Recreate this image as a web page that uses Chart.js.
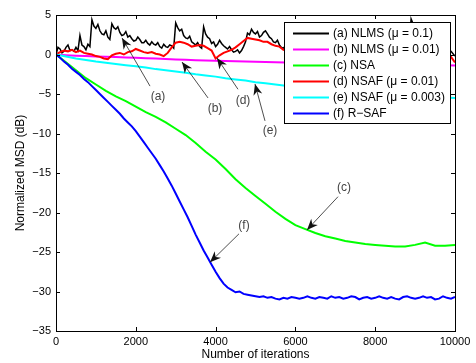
<!DOCTYPE html>
<html>
<head>
<meta charset="utf-8">
<script src="https://cdn.jsdelivr.net/npm/chart.js@4.4.0/dist/chart.umd.min.js"></script>
<style>
  html, body { margin: 0; padding: 0; background: #fff; }
</style>
</head>
<body>
<canvas id="grafico" width="476" height="363"></canvas>
<script>
// Rejillas de iteraciones (cada 50, cada 100 y cada 250)
const iter50 = Array.from({length: 201}, (v, i) => i * 50);
const iter100 = Array.from({length: 101}, (v, i) => i * 100);
const iter250 = Array.from({length: 41}, (v, i) => i * 250);

// (a) NLMS mu = 0.1  (cada 50)
const nlms01 = [0,0.9,0.7,0.2,0.4,0.9,1.2,0.5,0.6,0.4,0.9,0.5,2.4,1.2,1.0,0.6,1.3,1.0,4.4,3.6,
  3.3,3.8,3.0,2.6,2.5,3.0,2.2,1.9,3.9,3.4,3.2,3.5,2.8,2.4,2.5,2.9,2.2,2.4,2.0,1.7,
  1.8,2.2,1.9,1.5,1.5,1.8,1.4,1.2,1.6,1.3,1.2,1.5,1.0,0.8,1.3,1.0,0.9,1.2,1.1,0.8,
  4.0,3.4,3.0,3.2,2.4,2.1,2.0,2.3,1.6,1.4,1.2,1.5,1.0,0.8,3.5,2.6,2.2,2.0,1.4,1.6,
  1.0,1.3,1.8,1.4,1.1,0.9,0.7,1.0,0.6,0.3,0.4,0.6,0.2,0.5,1.0,1.6,2.7,2.5,3.2,2.8,
  2.6,2.9,2.2,2.4,2.8,3.0,2.6,2.2,2.0,1.6,1.5,1.8,1.2,0.9,0.8,1.1,1.4,1.1,1.0,1.3,
  1.6,2.2,2.9,2.4,2.1,1.8,1.6,1.9,1.3,1.1,1.0,1.3,2.6,2.2,1.9,1.6,1.4,1.7,1.1,0.9,
  0.8,1.1,1.5,1.2,1.0,0.7,3.0,2.5,2.2,2.4,1.7,1.5,1.3,1.6,1.0,0.8,0.7,1.0,1.9,1.6,
  1.4,1.2,1.0,1.4,2.5,2.1,1.8,1.5,1.3,1.0,1.0,1.3,0.8,1.1,1.2,0.9,1.0,1.1,4.5,3.9,
  3.4,3.0,2.7,2.9,2.2,2.0,1.8,2.1,1.4,1.2,1.1,1.5,2.0,1.7,1.4,1.0,0.9,0.6,0.4,0.1,-0.2];

// (b) NLMS mu = 0.01  (cada 250)
const nlms001 = [0,-0.08,-0.15,-0.2,-0.25,-0.3,-0.33,-0.38,-0.42,-0.47,
  -0.52,-0.57,-0.62,-0.67,-0.72,-0.76,-0.8,-0.83,-0.86,-0.89,
  -0.92,-0.95,-0.98,-1.0,-1.03,-1.06,-1.08,-1.1,-1.13,-1.15,
  -1.17,-1.2,-1.22,-1.24,-1.26,-1.28,-1.3,-1.32,-1.34,-1.36,-1.38];

// (c) NSA  (cada 250)
const nsa = [0,-1.0,-2.0,-3.0,-3.8,-4.6,-5.3,-5.9,-6.6,-7.3,
  -7.9,-8.6,-9.4,-10.2,-11.2,-12.3,-13.3,-14.5,-15.8,-16.9,
  -17.9,-18.9,-19.9,-20.8,-21.6,-22.1,-22.6,-23.0,-23.3,-23.6,
  -23.8,-24.0,-24.1,-24.2,-24.3,-24.3,-24.1,-23.8,-24.2,-24.2,-24.1];

// (d) NSAF mu = 0.01  (cada 100)
const nsaf001 = [0,0.3,0.5,0.4,0.6,0.3,0.5,0.2,0.1,0.0,
  -0.2,-0.3,-0.5,-0.6,-0.1,0.1,0.2,0.0,0.3,0.4,
  0.7,0.5,0.3,0.2,0.3,0.1,0.0,-0.2,0.2,0.9,
  1.5,1.6,1.5,1.3,1.0,1.1,1.2,1.1,0.8,0.5,
  -0.5,-0.1,0.2,0.4,0.6,0.9,1.3,1.7,2.1,2.0,
  1.9,1.8,1.6,1.6,1.3,1.1,1.0,0.6,0.5,0.8,
  1.0,1.3,1.1,0.9,1.2,1.4,1.1,0.8,0.6,0.9,
  1.2,1.0,0.7,0.9,1.1,0.8,0.5,0.7,1.0,0.8,
  0.6,0.9,1.2,1.0,0.7,0.5,0.8,1.0,0.9,1.1,
  0.8,0.6,0.8,1.0,0.7,0.5,0.6,0.4,0.2,-0.3,-1.0];

// (e) NSAF mu = 0.003  (cada 250)
const nsaf0003 = [0,-0.25,-0.5,-0.7,-0.9,-1.05,-1.2,-1.35,-1.5,-1.65,
  -1.85,-2.0,-2.15,-2.3,-2.5,-2.65,-2.8,-3.0,-3.15,-3.3,
  -3.5,-3.65,-3.8,-3.95,-4.1,-4.2,-4.35,-4.45,-4.55,-4.65,
  -4.75,-4.85,-4.95,-5.05,-5.1,-5.2,-5.25,-5.3,-5.4,-5.45,-5.5];

// (f) R-SAF  (cada 100)
const rsaf = [0,-0.4,-0.9,-1.3,-1.8,-2.2,-2.6,-3.1,-3.5,-4.0,
  -4.5,-5.0,-5.5,-6.0,-6.5,-7.0,-7.5,-8.1,-8.6,-9.1,
  -9.7,-10.4,-11.1,-11.8,-12.5,-13.2,-14.0,-14.8,-15.7,-16.6,
  -17.6,-18.6,-19.6,-20.6,-21.7,-22.8,-23.8,-24.8,-25.7,-26.6,
  -27.5,-28.3,-29.0,-29.5,-29.8,-30.1,-30.0,-30.3,-30.4,-30.5,
  -30.6,-30.7,-30.6,-30.8,-30.7,-30.9,-31.0,-30.8,-30.9,-30.7,
  -30.8,-30.9,-30.8,-30.6,-30.8,-30.9,-30.7,-30.8,-30.9,-30.6,
  -30.8,-30.7,-30.9,-30.8,-30.6,-30.7,-31.0,-30.8,-30.7,-30.9,
  -30.8,-30.6,-30.8,-30.9,-30.7,-30.9,-31.0,-30.7,-30.6,-30.8,
  -30.9,-30.8,-30.6,-30.8,-30.7,-31.0,-30.9,-30.6,-30.8,-30.9,-30.7];

// Ticks
const ticksX = [0, 2000, 4000, 6000, 8000, 10000];
const ticksY = [5, 0, -5, -10, -15, -20, -25, -30, -35];

// Etiquetas con flecha: texto, inicio de la linea, punta (en unidades de datos)
const notas = [
  {texto: "(a)", pos: [2556, -5.3], desde: [2356, -4.0], hasta: [1654, 2.1]},
  {texto: "(b)", pos: [3985, -6.8], desde: [3810, -5.5], hasta: [3158, -0.95]},
  {texto: "(d)", pos: [4687, -5.8], desde: [4561, -4.4], hasta: [4035, -0.44]},
  {texto: "(e)", pos: [5363, -9.7], desde: [5238, -8.4], hasta: [4987, -3.73]},
  {texto: "(c)", pos: [7218, -16.9], desde: [7068, -18.0], hasta: [6291, -22.2]},
  {texto: "(f)", pos: [4712, -21.7], desde: [4586, -22.7], hasta: [3860, -26.3]}
];

const puntos = (xs, ys) => ys.map((v, i) => ({x: xs[i], y: v}));

// Series en orden de la leyenda (a..f)
const series = [
  {label: "(a) NLMS (\u03bc = 0.1)", data: puntos(iter50, nlms01), borderColor: "#000000", borderWidth: 1.5},
  {label: "(b) NLMS (\u03bc = 0.01)", data: puntos(iter250, nlms001), borderColor: "#ff00ff", borderWidth: 2},
  {label: "(c) NSA", data: puntos(iter250, nsa), borderColor: "#00ff00", borderWidth: 2},
  {label: "(d) NSAF (\u03bc = 0.01)", data: puntos(iter100, nsaf001), borderColor: "#ff0000", borderWidth: 2},
  {label: "(e) NSAF (\u03bc = 0.003)", data: puntos(iter250, nsaf0003), borderColor: "#00ffff", borderWidth: 2},
  {label: "(f) R\u2212SAF", data: puntos(iter100, rsaf), borderColor: "#0000ff", borderWidth: 2}
];

const fuente = "'Liberation Sans', Arial, Helvetica, sans-serif";

// Marco, ticks hacia dentro, flechas y leyenda al estilo MATLAB
const marco = {
  id: "marco",
  afterDraw(chart) {
    const {ctx, chartArea: a, scales: {x, y}} = chart;
    ctx.save();

    // flechas
    ctx.strokeStyle = "#222";
    ctx.fillStyle = "#111";
    ctx.lineWidth = 0.8;
    ctx.font = "12px " + fuente;
    ctx.textAlign = "center";
    ctx.textBaseline = "middle";
    notas.forEach(n => {
      const x0 = x.getPixelForValue(n.desde[0]), y0 = y.getPixelForValue(n.desde[1]);
      const x1 = x.getPixelForValue(n.hasta[0]), y1 = y.getPixelForValue(n.hasta[1]);
      ctx.beginPath();
      ctx.moveTo(x0, y0);
      ctx.lineTo(x1, y1);
      ctx.stroke();
      const ang = Math.atan2(y1 - y0, x1 - x0);
      const c = Math.cos(ang), s = Math.sin(ang);
      const L = 11, W = 4.5;
      ctx.beginPath();
      ctx.moveTo(x1, y1);
      ctx.lineTo(x1 - L * c + W * s, y1 - L * s - W * c);
      ctx.lineTo(x1 - 0.7 * L * c, y1 - 0.7 * L * s);
      ctx.lineTo(x1 - L * c - W * s, y1 - L * s + W * c);
      ctx.closePath();
      ctx.fill();
      ctx.fillStyle = "#444";
      ctx.fillText(n.texto, x.getPixelForValue(n.pos[0]), y.getPixelForValue(n.pos[1]));
      ctx.fillStyle = "#111";
    });

    // caja y ticks
    ctx.strokeStyle = "#000";
    ctx.lineWidth = 1;
    ctx.beginPath();
    ticksX.forEach(v => {
      const px = Math.round(x.getPixelForValue(v)) + 0.5;
      ctx.moveTo(px, a.bottom); ctx.lineTo(px, a.bottom - 4);
      ctx.moveTo(px, a.top); ctx.lineTo(px, a.top + 4);
    });
    ticksY.forEach(v => {
      const py = Math.round(y.getPixelForValue(v)) + 0.5;
      ctx.moveTo(a.left, py); ctx.lineTo(a.left + 4, py);
      ctx.moveTo(a.right, py); ctx.lineTo(a.right - 4, py);
    });
    ctx.stroke();
    ctx.strokeRect(Math.round(a.left) + 0.5, Math.round(a.top) + 0.5,
      Math.round(a.right - a.left), Math.round(a.bottom - a.top));

    // leyenda
    const lx = 284, ly = 22, lw = 166, lh = 101;
    ctx.fillStyle = "#fff";
    ctx.fillRect(lx, ly, lw, lh);
    ctx.strokeStyle = "#000";
    ctx.strokeRect(lx + 0.5, ly + 0.5, lw, lh);
    ctx.textAlign = "left";
    ctx.font = "12px " + fuente;
    series.forEach((s, i) => {
      const yy = ly + 11.5 + i * 16;
      ctx.strokeStyle = s.borderColor;
      ctx.lineWidth = 2;
      ctx.beginPath();
      ctx.moveTo(lx + 9, yy); ctx.lineTo(lx + 45, yy);
      ctx.stroke();
      ctx.fillStyle = "#000";
      ctx.fillText(s.label, lx + 49, yy + 0.5);
    });
    ctx.restore();
  }
};

Chart.defaults.font.family = fuente;
Chart.defaults.color = "#000";

// Se dibujan al reves para que (a) quede debajo y (f) encima
const datasets = series.slice().reverse().map(s => ({
  label: s.label,
  data: s.data,
  borderColor: s.borderColor,
  borderWidth: s.borderWidth,
  pointRadius: 0,
  tension: 0,
  fill: false
}));

new Chart(document.getElementById("grafico"), {
  type: "line",
  data: {datasets: datasets},
  options: {
    responsive: false,
    animation: false,
    devicePixelRatio: 1,
    layout: {padding: {top: 15, right: 21, left: 0, bottom: 0}},
    plugins: {legend: {display: false}, tooltip: {enabled: false}},
    scales: {
      x: {
        type: "linear",
        min: 0, max: 10000,
        afterBuildTicks: s => { s.ticks = ticksX.map(v => ({value: v})); },
        afterFit: s => { s.height = 32; },
        grid: {display: false, drawTicks: false},
        border: {display: false},
        ticks: {font: {size: 11}, padding: 4, maxRotation: 0, autoSkip: false,
          callback: v => String(v)},
        title: {display: true, text: "Number of iterations", font: {size: 12}, padding: {top: 0, bottom: 1}}
      },
      y: {
        type: "linear",
        min: -35, max: 5,
        afterBuildTicks: s => { s.ticks = ticksY.map(v => ({value: v})); },
        afterFit: s => { s.width = 56; },
        grid: {display: false, drawTicks: false},
        border: {display: false},
        ticks: {font: {size: 11}, padding: 5,
          callback: v => String(v).replace("-", "\u2212")},
        title: {display: true, text: "Normalized MSD (dB)", font: {size: 12}, padding: {top: 13, bottom: 0}}
      }
    }
  },
  plugins: [marco]
});
</script>
</body>
</html>
